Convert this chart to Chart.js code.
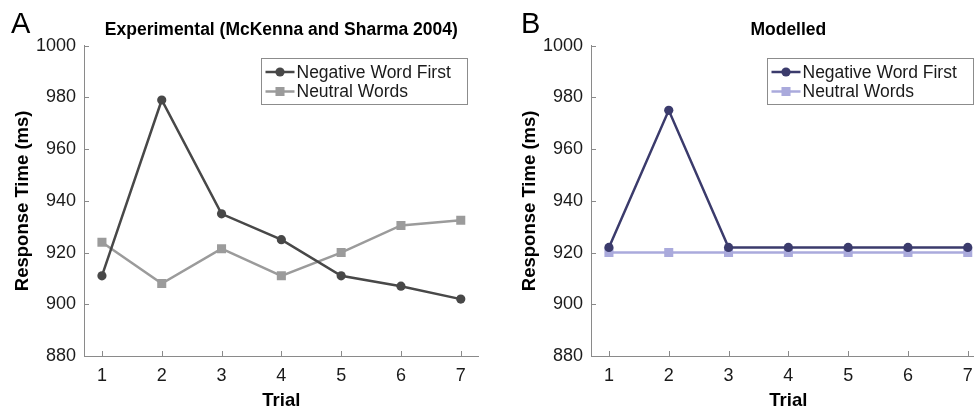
<!DOCTYPE html>
<html>
<head>
<meta charset="utf-8">
<script src="https://cdn.jsdelivr.net/npm/chart.js@4/dist/chart.umd.min.js"></script>
<style>
  html, body { margin: 0; padding: 0; background: #fff; overflow: hidden; width: 974px; height: 415px; }
  .panel { position: absolute; top: 0; width: 490px; height: 415px; }
  #panelA { left: 0; }
  #panelB { left: 507px; }
</style>
</head>
<body>
<div class="panel" id="panelA"><canvas id="graficoA"></canvas></div>
<div class="panel" id="panelB"><canvas id="graficoB"></canvas></div>
<script>
// datos
const ensayos = [1, 2, 3, 4, 5, 6, 7];
const ticksY = [880, 900, 920, 940, 960, 980, 1000];
const etiquetas = ['Negative Word First', 'Neutral Words'];

const expNegativa = [911, 979, 935, 925, 911, 907, 902];
const expNeutral = [924, 908, 921.5, 911, 920, 930.5, 932.5];

const modNegativa = [922, 975, 922, 922, 922, 922, 922];
const modNeutral = [920, 920, 920, 920, 920, 920, 920];

const fuente = "'Liberation Sans', Arial, Helvetica, sans-serif";
const colorEje = '#8a8a8a';

function Puntos(valores) {
  return ensayos.map((x, i) => ({ x: x, y: valores[i] }));
}

// marcas de los ejes hacia adentro, caja de leyenda y letra del panel
const pluginDecoracion = {
  id: 'decoracion',
  afterDraw(chart, args, opts) {
    const ctx = chart.ctx;
    const area = chart.chartArea;
    const sx = chart.scales.x;
    const sy = chart.scales.y;
    ctx.save();
    ctx.strokeStyle = colorEje;
    ctx.lineWidth = 1;
    ctx.beginPath();
    sx.ticks.forEach(t => {
      const px = Math.round(sx.getPixelForValue(t.value)) + 0.5;
      ctx.moveTo(px, area.bottom);
      ctx.lineTo(px, area.bottom - 5);
    });
    sy.ticks.forEach(t => {
      const py = Math.round(sy.getPixelForValue(t.value)) + 0.5;
      ctx.moveTo(area.left, py);
      ctx.lineTo(area.left + 5, py);
    });
    ctx.stroke();

    // leyenda
    const ancho = 206, alto = 46;
    const bx = Math.round(area.right - opts.margenLeyenda - ancho) + 0.5;
    const by = Math.round(area.top + 12) + 0.5;
    ctx.fillStyle = '#fff';
    ctx.fillRect(bx, by, ancho, alto);
    ctx.lineWidth = 1;
    ctx.strokeStyle = '#8c8c8c';
    ctx.strokeRect(bx, by, ancho, alto);
    chart.data.datasets.forEach((ds, i) => {
      const fy = by + 13.5 + i * 19.5;
      ctx.strokeStyle = ds.borderColor;
      ctx.lineWidth = ds.borderWidth;
      ctx.beginPath();
      ctx.moveTo(bx + 4, fy);
      ctx.lineTo(bx + 33, fy);
      ctx.stroke();
      ctx.fillStyle = ds.pointBackgroundColor;
      ctx.beginPath();
      if (ds.pointStyle === 'rect') {
        const s = ds.pointRadius * Math.SQRT1_2;
        ctx.rect(bx + 18.5 - s, fy - s, 2 * s, 2 * s);
      } else {
        ctx.arc(bx + 18.5, fy, ds.pointRadius, 0, Math.PI * 2);
      }
      ctx.fill();
      ctx.fillStyle = '#1a1a1a';
      ctx.font = '17.5px ' + fuente;
      ctx.textBaseline = 'middle';
      ctx.textAlign = 'left';
      ctx.fillText(ds.label, bx + 35, fy + 1);
    });

    // letra del panel
    ctx.fillStyle = '#000';
    ctx.font = '29px ' + fuente;
    ctx.textBaseline = 'alphabetic';
    ctx.fillText(opts.letra, opts.letraX, 33);
    ctx.restore();
  }
};

function CrearGrafico(idCanvas, titulo, letra, letraX, margenLeyenda, negativa, neutral, colores) {
  const ctx = document.getElementById(idCanvas);
  return new Chart(ctx, {
    type: 'line',
    data: {
      datasets: [{
        label: etiquetas[0],
        data: Puntos(negativa),
        borderColor: colores[0],
        backgroundColor: colores[0],
        pointBackgroundColor: colores[0],
        pointBorderWidth: 0,
        borderWidth: 2.5,
        pointStyle: 'circle',
        pointRadius: 4.6,
        tension: 0
      }, {
        label: etiquetas[1],
        data: Puntos(neutral),
        borderColor: colores[1],
        backgroundColor: colores[1],
        pointBackgroundColor: colores[1],
        pointBorderWidth: 0,
        borderWidth: 2.5,
        pointStyle: 'rect',
        pointRadius: 6.4,
        tension: 0
      }]
    },
    options: {
      responsive: true,
      maintainAspectRatio: false,
      animation: false,
      layout: { padding: { left: 0, right: 11.3, top: 0, bottom: 0 } },
      plugins: {
        legend: { display: false },
        tooltip: { enabled: false },
        title: {
          display: true,
          text: titulo,
          fullSize: false,
          color: '#000',
          font: { family: fuente, size: 17.5, weight: 'bold', lineHeight: 1.2 },
          padding: { top: 20, bottom: 4.7 }
        },
        decoracion: { letra: letra, letraX: letraX, margenLeyenda: margenLeyenda }
      },
      scales: {
        x: {
          type: 'linear',
          min: 0.7,
          max: 7.3,
          afterBuildTicks: s => { s.ticks = ensayos.map(v => ({ value: v })); },
          afterFit: s => { s.height = 59; },
          grid: { display: true, drawOnChartArea: false, drawTicks: false },
          border: { color: colorEje, width: 1 },
          ticks: { color: '#1a1a1a', padding: 9, font: { family: fuente, size: 18 } },
          title: {
            display: true,
            text: 'Trial',
            color: '#000',
            font: { family: fuente, size: 18.5, weight: 'bold', lineHeight: 1.2 },
            padding: { top: 0, bottom: 2.5 }
          }
        },
        y: {
          min: 880,
          max: 1000,
          afterBuildTicks: s => { s.ticks = ticksY.map(v => ({ value: v })); },
          afterFit: s => { s.width = 84; },
          grid: { display: true, drawOnChartArea: false, drawTicks: false },
          border: { color: colorEje, width: 1 },
          ticks: {
            color: '#1a1a1a',
            padding: 8,
            font: { family: fuente, size: 18 },
            callback: v => String(v)
          },
          title: {
            display: true,
            text: 'Response Time (ms)',
            color: '#000',
            font: { family: fuente, size: 18.5, weight: 'bold', lineHeight: 1.2 },
            padding: { top: 11.5, bottom: 0 }
          }
        }
      }
    },
    plugins: [pluginDecoracion]
  });
}

CrearGrafico('graficoA', 'Experimental (McKenna and Sharma 2004)', 'A', 11, 12,
  expNegativa, expNeutral, ['#484848', '#9b9b9b']);
CrearGrafico('graficoB', 'Modelled', 'B', 14, 13,
  modNegativa, modNeutral, ['#3b3b6c', '#aaaadc']);
</script>
</body>
</html>
